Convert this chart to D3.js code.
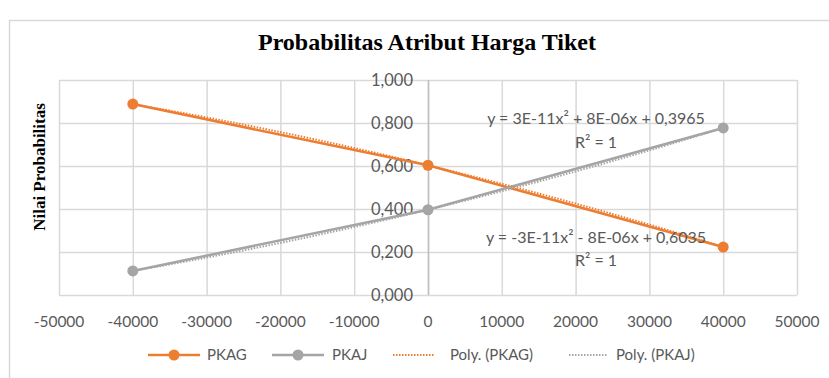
<!DOCTYPE html>
<html><head><meta charset="utf-8">
<script src="https://cdn.jsdelivr.net/npm/d3@7"></script>
<style>body{margin:0;background:#fff}svg{display:block}</style>
</head><body>
<svg id="c" width="829" height="378"></svg>
<script>
const xValues = [-40000, 0, 40000];
const pkag = [0.888, 0.6035, 0.223];
const pkaj = [0.112, 0.3965, 0.777];
const xTicks = [-50000,-40000,-30000,-20000,-10000,0,10000,20000,30000,40000,50000];
const yTicks = [0,0.2,0.4,0.6,0.8,1.0];
const seriesNames = ["PKAG","PKAJ","Poly. (PKAG)","Poly. (PKAJ)"];
const trendLabels = ["y = -3E-11x² - 8E-06x + 0,6035","y = 3E-11x² + 8E-06x + 0,3965"];
const colors = {PKAG:"#ED7D31", PKAJ:"#A5A5A5"};

const svg = d3.select("#c");
const font = "Lato, 'Liberation Sans', sans-serif";
svg.append("rect").attr("x",9.5).attr("y",20.5).attr("width",900).attr("height",500)
  .attr("fill","#fff").attr("stroke","#d9d9d9").attr("stroke-width",1.5);

const x = d3.scaleLinear().domain([-50000,50000]).range([59,797]);
const y = d3.scaleLinear().domain([0,1]).range([295,80]);

// grid
svg.append("g").selectAll("line").data(yTicks).join("line")
  .attr("x1",x(-50000)).attr("x2",x(50000)).attr("y1",d=>y(d)+0.5).attr("y2",d=>y(d)+0.5)
  .attr("stroke","#d9d9d9").attr("stroke-width",1.5);
svg.append("g").selectAll("line").data(xTicks).join("line")
  .attr("y1",y(0)).attr("y2",y(1)).attr("x1",d=>x(d)+0.5).attr("x2",d=>x(d)+0.5)
  .attr("stroke","#d9d9d9").attr("stroke-width",1.5);
// y axis at x=0
svg.append("line").attr("x1",x(0)+0.5).attr("x2",x(0)+0.5).attr("y1",y(0)).attr("y2",y(1))
  .attr("stroke","#bfbfbf").attr("stroke-width",1.5);

// y tick labels
const fmt = d => d3.format(".3f")(d).replace(".",",");
svg.append("g").selectAll("text").data(yTicks).join("text")
  .attr("x",x(0)-15).attr("y",d=>y(d)).attr("dy","0.35em").attr("text-anchor","end")
  .attr("font-family",font).attr("font-size",16.5).attr("fill","#595959").text(fmt);
// x tick labels
svg.append("g").selectAll("text").data(xTicks).join("text")
  .attr("x",d=>x(d)).attr("y",322).attr("dy","0.35em").attr("text-anchor","middle")
  .attr("font-family",font).attr("font-size",15.5).attr("fill","#595959").text(d=>d);

// series lines
const line = d3.line().x(d=>x(d[0])).y(d=>y(d[1]));
const series = [["PKAG",pkag],["PKAJ",pkaj]];
// quadratic through points (Excel poly trendline, order 2)
function quad(vals){
  const [x0,x1,x2]=xValues,[y0,y1,y2]=vals;
  return t => y0*(t-x1)*(t-x2)/((x0-x1)*(x0-x2)) + y1*(t-x0)*(t-x2)/((x1-x0)*(x1-x2)) + y2*(t-x0)*(t-x1)/((x2-x0)*(x2-x1));
}
series.forEach(([n,v])=>{
  svg.append("path").datum(xValues.map((xv,i)=>[xv,v[i]])).attr("d",line)
    .attr("fill","none").attr("stroke",colors[n]).attr("stroke-width",2.5);
});
series.forEach(([n,v])=>{
  const f = quad(v);
  const pts = d3.range(-40000,40001,1000).map(t=>[t,f(t)]);
  svg.append("path").datum(pts).attr("d",line).attr("fill","none")
    .attr("stroke",colors[n]).attr("stroke-width",2).attr("stroke-dasharray","1.5,1.5");
});
series.forEach(([n,v])=>{
  svg.append("g").selectAll("circle").data(xValues.map((xv,i)=>[xv,v[i]])).join("circle")
    .attr("cx",d=>x(d[0])).attr("cy",d=>y(d[1])).attr("r",5.5).attr("fill",colors[n]);
});

// trendline labels
const tl = [[trendLabels[1],118,142],[trendLabels[0],237,260]];
tl.forEach(([t,y1,y2])=>{
  svg.append("text").attr("x",596).attr("y",y1).attr("dy","0.35em").attr("text-anchor","middle")
    .attr("font-family",font).attr("font-size",16).attr("fill","#595959").text(t);
  svg.append("text").attr("x",596).attr("y",y2).attr("dy","0.35em").attr("text-anchor","middle")
    .attr("font-family",font).attr("font-size",16).attr("fill","#595959").text("R² = 1");
});

// title
svg.append("text").attr("x",427).attr("y",42).attr("dy","0.35em").attr("text-anchor","middle")
  .attr("font-family","'Liberation Serif', serif").attr("font-weight","bold").attr("font-size",24)
  .attr("fill","#000").text("Probabilitas Atribut Harga Tiket");
// y axis title
svg.append("text").attr("transform","translate(39,167) rotate(-90)").attr("dy","0.35em")
  .attr("text-anchor","middle").attr("font-family","'Liberation Serif', serif").attr("font-weight","bold")
  .attr("font-size",17).attr("fill","#000").text("Nilai Probabilitas");

// legend
const ly = 355;
const leg = [
  {name:seriesNames[0], x1:148, x2:200, tx:207, color:colors.PKAG, dotted:false},
  {name:seriesNames[1], x1:272, x2:324, tx:332, color:colors.PKAJ, dotted:false},
  {name:seriesNames[2], x1:393, x2:434, tx:450, color:colors.PKAG, dotted:true},
  {name:seriesNames[3], x1:569, x2:608, tx:616, color:colors.PKAJ, dotted:true}
];
leg.forEach(l=>{
  svg.append("line").attr("x1",l.x1).attr("x2",l.x2).attr("y1",ly).attr("y2",ly)
    .attr("stroke",l.color).attr("stroke-width",l.dotted?2:2.5).attr("stroke-dasharray",l.dotted?"1.5,1.5":null);
  if(!l.dotted) svg.append("circle").attr("cx",(l.x1+l.x2)/2).attr("cy",ly).attr("r",5.5).attr("fill",l.color);
  svg.append("text").attr("x",l.tx).attr("y",ly).attr("dy","0.35em").attr("font-family",font)
    .attr("font-size",15).attr("fill","#595959").text(l.name);
});
</script>
</body></html>
